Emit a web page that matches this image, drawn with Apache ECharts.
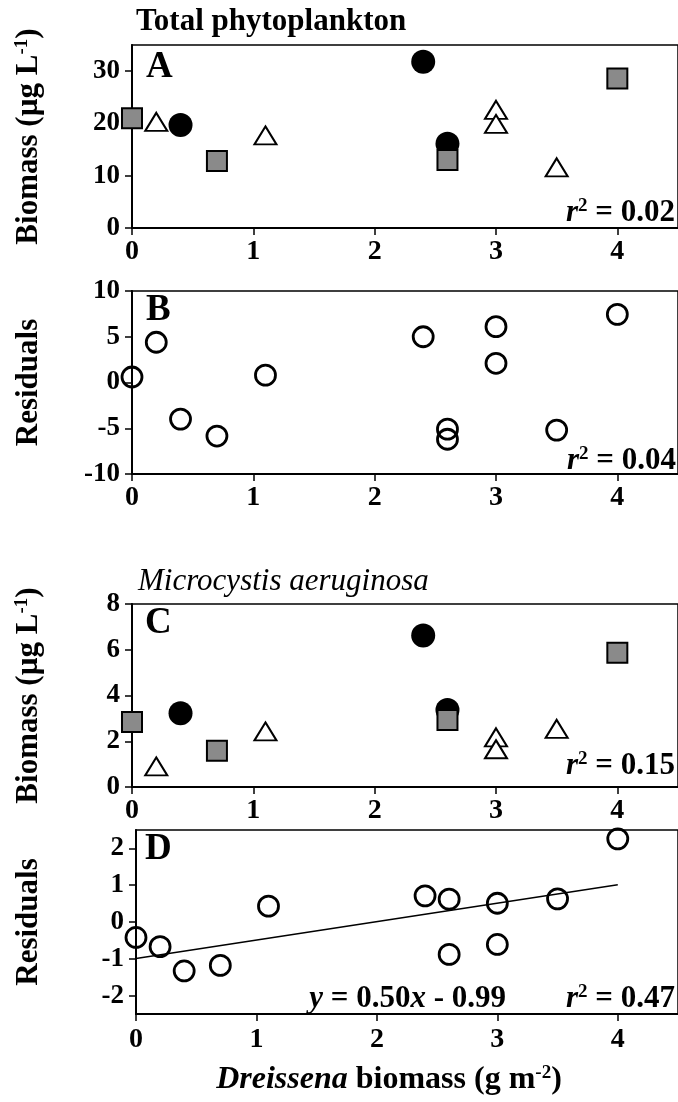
<!DOCTYPE html>
<html>
<head>
<meta charset="utf-8">
<script src="https://cdn.jsdelivr.net/npm/echarts@6/dist/echarts.min.js"></script>
<style>
  html, body { margin: 0; padding: 0; background: #fff; }
  #chart { width: 678px; height: 1102px; }
</style>
</head>
<body>
<div id="chart"></div>
<script>
// tick values
const xTicks = [0, 1, 2, 3, 4];
const ticksA = [0, 10, 20, 30];
const ticksB = [-10, -5, 0, 5, 10];
const ticksC = [0, 2, 4, 6, 8];
const ticksD = [-2, -1, 0, 1, 2];

// A - total phytoplankton biomass [Dreissena biomass, biomass]
const aSquares = [[0, 21.0], [0.7, 12.8], [2.6, 13.0], [4.0, 28.6]];
const aCircles = [[0.4, 19.7], [2.4, 31.8], [2.6, 16.1]];
const aTriangles = [[0.2, 20.3], [1.1, 17.7], [3.0, 22.6], [3.0, 19.9], [3.5, 11.6]];

// B - residuals
const bResiduals = [[0, 0.6], [0.2, 4.4], [0.4, -4.0], [0.7, -5.85], [1.1, 0.8], [2.4, 5.0],
  [2.6, -5.1], [2.6, -6.2], [3.0, 6.1], [3.0, 2.1], [3.5, -5.2], [4.0, 7.45]];

// C - Microcystis aeruginosa biomass
const cSquares = [[0, 2.84], [0.7, 1.59], [2.6, 2.93], [4.0, 5.87]];
const cCircles = [[0.4, 3.22], [2.4, 6.62], [2.6, 3.37]];
const cTriangles = [[0.2, 0.9], [1.1, 2.43], [3.0, 2.17], [3.0, 1.65], [3.5, 2.54]];

// D - residuals and fitted line (y = 0.50x - 0.99)
const dResiduals = [[0, -0.42], [0.2, -0.67], [0.4, -1.33], [0.7, -1.18], [1.1, 0.43], [2.4, 0.71],
  [2.6, 0.62], [2.6, -0.88], [3.0, 0.51], [3.0, -0.61], [3.5, 0.63], [4.0, 2.26]];
const dLine = [[0, -0.99], [4, 1.01]];

const SERIF = 'Liberation Serif';
const bold = { fontFamily: SERIF, fontWeight: 'bold', color: '#000' };

let chart = echarts.init(document.getElementById('chart'));

const grids = [
  { left: 132, top: 45, width: 547, height: 183 },
  { left: 132, top: 291, width: 547, height: 183 },
  { left: 132, top: 604, width: 547, height: 183 },
  { left: 136, top: 830, width: 545, height: 184 }
].map(g => Object.assign(g, { show: true, borderColor: '#000', borderWidth: 1.5 }));

function xAxis(gi, margin) {
  return {
    type: 'value', gridIndex: gi, min: 0, max: 4.5,
    axisLine: { show: true, onZero: false, lineStyle: { color: '#000', width: 2 } },
    axisTick: { show: true, length: 7, customValues: xTicks, lineStyle: { color: '#000', width: 1.5 } },
    axisLabel: Object.assign({ customValues: xTicks, margin: margin, fontSize: 28 }, bold),
    splitLine: { show: false }
  };
}

function yAxis(gi, min, max, ticks, name, gap) {
  return {
    type: 'value', gridIndex: gi, min: min, max: max,
    axisLine: { show: true, onZero: false, lineStyle: { color: '#000', width: 2 } },
    axisTick: { show: true, length: 7, customValues: ticks, lineStyle: { color: '#000', width: 1.5 } },
    axisLabel: Object.assign({ customValues: ticks, margin: 12, fontSize: 27 }, bold),
    splitLine: { show: false },
    name: name, nameLocation: 'middle', nameRotate: 90, nameGap: gap,
    nameTextStyle: {
      rich: {
        a: { fontFamily: SERIF, fontWeight: 'bold', fontSize: 31, color: '#000' },
        s: { fontFamily: SERIF, fontWeight: 'bold', fontSize: 19, color: '#000', verticalAlign: 'top' }
      }
    }
  };
}

const biomassName = '{a|Biomass (µg L}{s|-1}{a|)}';

function circles(i, data) {
  return { type: 'scatter', xAxisIndex: i, yAxisIndex: i, data: data, symbol: 'circle', symbolSize: 24,
    itemStyle: { color: '#000', opacity: 1 }, silent: true };
}
function squares(i, data) {
  return { type: 'scatter', xAxisIndex: i, yAxisIndex: i, data: data, symbol: 'rect', symbolSize: 20,
    itemStyle: { color: '#8a8a8a', borderColor: '#000', borderWidth: 2, opacity: 1 }, silent: true };
}
function triangles(i, data) {
  return { type: 'scatter', xAxisIndex: i, yAxisIndex: i, data: data, symbol: 'triangle', symbolSize: [22, 18],
    itemStyle: { color: '#fff', borderColor: '#000', borderWidth: 2, opacity: 1 }, silent: true };
}
function rings(i, data) {
  return { type: 'scatter', xAxisIndex: i, yAxisIndex: i, data: data, symbol: 'circle', symbolSize: 20,
    itemStyle: { color: 'rgba(255,255,255,0)', borderColor: '#000', borderWidth: 2.8, opacity: 1 }, silent: true };
}

const rRich = {
  r: { fontFamily: SERIF, fontStyle: 'italic', fontWeight: 'bold', fontSize: 31, fill: '#000' },
  s: { fontFamily: SERIF, fontWeight: 'bold', fontSize: 19, fill: '#000', verticalAlign: 'top' },
  t: { fontFamily: SERIF, fontWeight: 'bold', fontSize: 31, fill: '#000' }
};
function rText(label, x, y) {
  return { type: 'text', x: x, y: y, style: { text: '{r|r}{s|2}{t| = ' + label + '}', rich: rRich, align: 'right', verticalAlign: 'bottom' } };
}
function letter(ch, x, y) {
  return { type: 'text', x: x, y: y, style: { text: ch, font: 'bold 37px "Liberation Serif"', fill: '#000' } };
}

const option = {
  animation: false,
  grid: grids,
  xAxis: [xAxis(0, 10), xAxis(1, 10), xAxis(2, 10), Object.assign(xAxis(3, 12), {
    name: '{i|Dreissena}{a| biomass (g m}{s|-2}{a|)}', nameLocation: 'middle', nameGap: 50,
    nameTextStyle: {
      padding: [0, 36, 0, 0],
      rich: {
        i: { fontFamily: SERIF, fontStyle: 'italic', fontWeight: 'bold', fontSize: 32, color: '#000' },
        a: { fontFamily: SERIF, fontWeight: 'bold', fontSize: 32, color: '#000' },
        s: { fontFamily: SERIF, fontWeight: 'bold', fontSize: 19, color: '#000', verticalAlign: 'top' }
      }
    }
  })],
  yAxis: [
    yAxis(0, 0, 35, ticksA, biomassName, 88),
    yAxis(1, -10, 10, ticksB, '{a|Residuals}', 88),
    yAxis(2, 0, 8, ticksC, biomassName, 88),
    yAxis(3, -2.5, 2.5, ticksD, '{a|Residuals}', 92)
  ],
  series: [
    circles(0, aCircles), triangles(0, aTriangles), squares(0, aSquares),
    rings(1, bResiduals),
    circles(2, cCircles), triangles(2, cTriangles), squares(2, cSquares),
    { type: 'line', xAxisIndex: 3, yAxisIndex: 3, data: dLine, symbol: 'none', silent: true,
      lineStyle: { color: '#000', width: 1.5 } },
    rings(3, dResiduals)
  ],
  title: [
    { text: 'Total phytoplankton', left: 131, top: 1,
      textStyle: { fontFamily: SERIF, fontWeight: 'bold', fontSize: 31, color: '#000' } },
    { text: 'Microcystis aeruginosa', left: 133, top: 561,
      textStyle: { fontFamily: SERIF, fontStyle: 'italic', fontWeight: 'normal', fontSize: 31, color: '#000' } }
  ],
  graphic: [
    letter('A', 146, 49), letter('B', 146, 292), letter('C', 145, 605), letter('D', 145, 831),
    rText('0.02', 675, 228),
    rText('0.04', 676, 476),
    rText('0.15', 675, 781),
    rText('0.47', 675, 1014),
    { type: 'text', x: 506, y: 1014, style: {
      text: '{v|y}{t| = 0.50}{v|x}{t| - 0.99}', align: 'right', verticalAlign: 'bottom',
      rich: {
        v: { fontFamily: SERIF, fontStyle: 'italic', fontWeight: 'bold', fontSize: 31, fill: '#000' },
        t: { fontFamily: SERIF, fontWeight: 'bold', fontSize: 31, fill: '#000' }
      } } }
  ]
};
chart.setOption(option);
</script>
</body>
</html>
